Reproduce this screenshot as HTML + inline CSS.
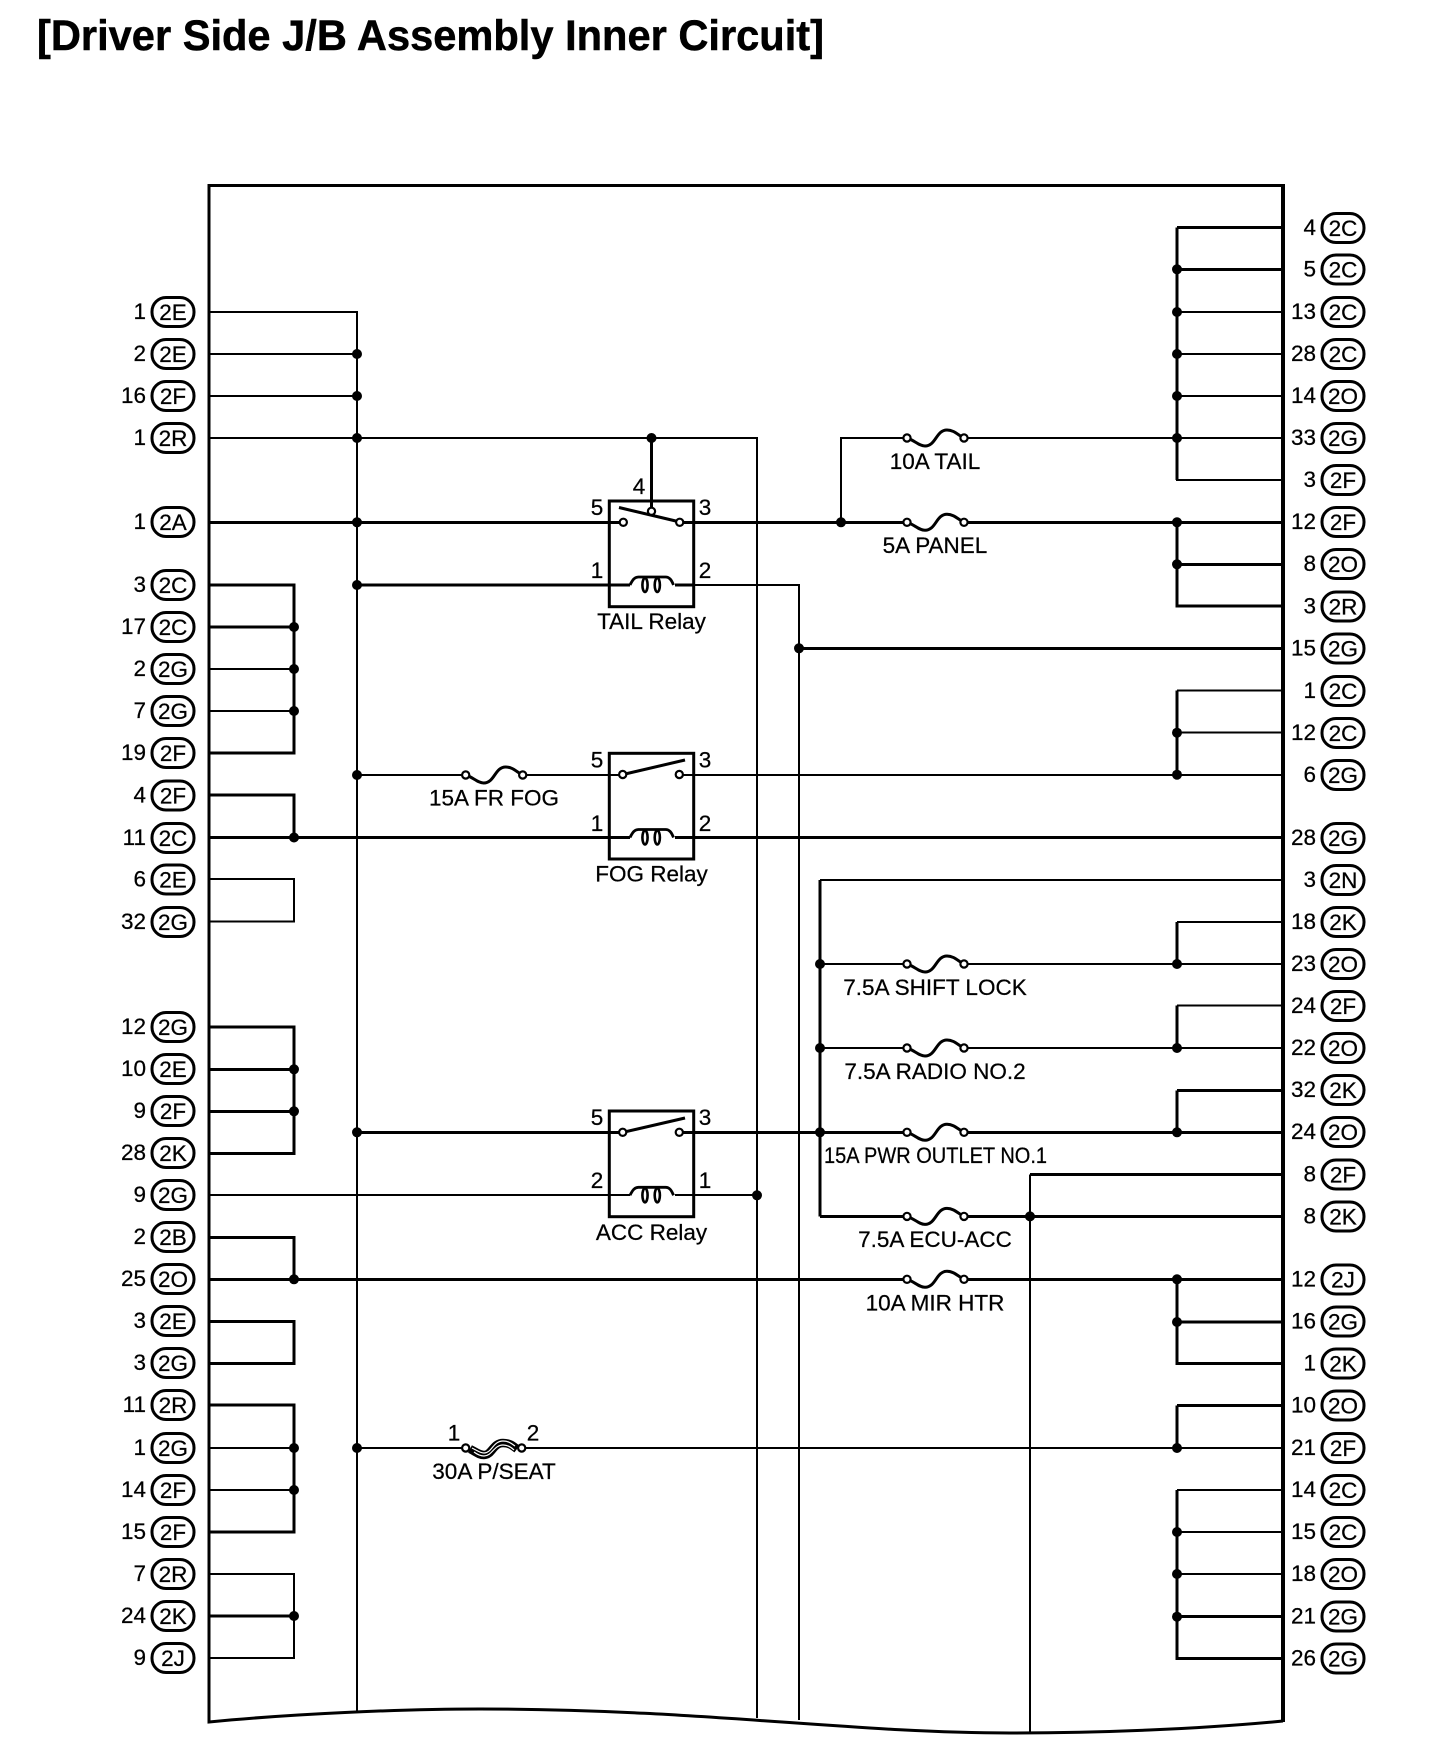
<!DOCTYPE html>
<html><head><meta charset="utf-8"><style>
html,body{margin:0;padding:0;background:#fff;width:1440px;height:1746px;overflow:hidden}
svg{display:block}
text{font-family:"Liberation Sans",sans-serif;font-size:22.5px;fill:#000;stroke:#000;stroke-width:.25}
.n{text-anchor:end;transform:translateX(1px)}.c{text-anchor:middle}
path,line,rect,ellipse,circle{stroke-linejoin:miter}
</style></head><body>
<svg width="1440" height="1746" viewBox="0 0 1440 1746" xmlns="http://www.w3.org/2000/svg">
<defs>
<rect id="o" x="-21" y="-14.5" width="42" height="29" rx="14" ry="14" fill="#fff" stroke="#000" stroke-width="3"/>
<g id="f"><path d="M0,0C7,2 12,8 18,8C29,8 29,-8 40,-8C47,-8 51,-3 57,0" fill="none" stroke="#000" stroke-width="3"/><circle cx="0" cy="0" r="3.6" fill="#fff" stroke="#000" stroke-width="2.2"/><circle cx="57" cy="0" r="3.6" fill="#fff" stroke="#000" stroke-width="2.2"/></g>
<g id="coil"><path d="M-21.5,0C-19,-5 -17,-8 -13,-8H14C18,-8 20,-5 22,0" fill="none" stroke="#000" stroke-width="2.8"/><ellipse cx="-6.5" cy="0" rx="2.6" ry="7" fill="#fff" stroke="#000" stroke-width="2.6"/><ellipse cx="5.8" cy="0" rx="2.6" ry="7" fill="#fff" stroke="#000" stroke-width="2.6"/></g>
<circle id="d" r="5" fill="#000"/>
<circle id="ct" r="3.6" fill="#fff" stroke="#000" stroke-width="2.2"/>
</defs>
<rect width="1440" height="1746" fill="#fff"/>
<text x="37" y="50" textLength="787" lengthAdjust="spacingAndGlyphs" style="font-size:43px;font-weight:bold;stroke-width:.5">[Driver Side J/B Assembly Inner Circuit]</text>

<!-- thin wires -->
<path fill="none" stroke="#000" stroke-width="2" shape-rendering="crispEdges" d="
M209,312H357V1711
M209,354H357M209,396H357
M209,438H757V1718
M209,669H294M209,711H294
M209,879H294V921.5H209
M209,1195H630M675,1195H757
M357,775H465M522,775H623M679,775H1283
M357,1448H465M522,1448H1283
M209,1574H294V1658H209
M1283,312H1177M1283,354H1177M1283,396H1177M1283,480H1177V438
M907,438H841V522M964,438H1283
M1283,690.7H1177M1283,732.7H1177
M1283,880H820M1283,922H1177M820,964H907M964,964H1283
M1283,1005.7H1177M820,1048H907M964,1048H1283
M1283,1490H1177M1283,1532H1177M1283,1574H1177
M1030,1174.6V1733
M209,1448H294M209,1490H294
M693,585H799V1720
"/>
<!-- thick wires -->
<path fill="none" stroke="#000" stroke-width="3" shape-rendering="crispEdges" d="
M209,522.3H623M679,522.3H907M964,522.3H1283
M357,585H630M675,585H693
M209,837.5H630M675,837.5H1283
M651.5,438V511
M209,585H294V753H209M209,627H294
M209,795H294V837
M1177,227.7V480M1283,269.3H1177
M1177,522V606H1283M1283,564.3H1177
M1177,690.7V774.7M1177,922V964M1177,1005.7V1048M1177,1090.7V1132.5
M1283,648.3H799
M1283,1174.6H1030
M1177,1279V1363.5H1283M1283,1322H1177
M1177,1405.7V1448M1177,1405.7H1283
M1177,1490V1658.5H1283M1283,1616.7H1177
M820,880V1216.4
M209,1027H294V1153.3H209M209,1069.3H294M209,1111.3H294
M209,1237.3H294V1279
M209,1279.3H907M964,1279.3H1283
M209,1321.3H294V1363.3H209
M209,1405H294V1532H209
M209,1616H294
M1283,227.7H1177
M357,1132.3H623M679,1132.3H907M964,1132.3H1283
M1177,1090.7H1283
M820,1216.4H907M964,1216.4H1283
"/>

<!-- outer box -->
<path fill="none" stroke="#000" stroke-width="3" d="M1283,185.5H209V1722C290,1714 400,1709 480,1709C700,1709 850,1733 1010,1733C1100,1733 1200,1729 1283,1721"/>
<path fill="none" stroke="#000" stroke-width="4" d="M1283,184V1722"/>

<!-- relays -->
<rect x="609.3" y="501" width="84.4" height="105.7" fill="none" stroke="#000" stroke-width="3"/>
<rect x="609.3" y="753.3" width="84.4" height="105.7" fill="none" stroke="#000" stroke-width="3"/>
<rect x="609.3" y="1111" width="84.4" height="105.7" fill="none" stroke="#000" stroke-width="3"/>
<use href="#coil" x="651.5" y="585"/><use href="#coil" x="651.5" y="837.5"/><use href="#coil" x="651.5" y="1195.3"/>
<line x1="619" y1="507.5" x2="680" y2="522" stroke="#000" stroke-width="3"/>
<line x1="623" y1="774.5" x2="685" y2="760" stroke="#000" stroke-width="3"/>
<line x1="623" y1="1132.3" x2="685" y2="1118" stroke="#000" stroke-width="3"/>
<use href="#ct" x="651.5" y="511.3"/><use href="#ct" x="623.3" y="522.3"/><use href="#ct" x="679.7" y="522.3"/>
<use href="#ct" x="622.7" y="774.5"/><use href="#ct" x="679.3" y="774.5"/>
<use href="#ct" x="622.7" y="1132.3"/><use href="#ct" x="679.3" y="1132.3"/>
<text class="c" x="597" y="515">5</text><text class="c" x="639" y="494">4</text><text class="c" x="705" y="515">3</text><text class="c" x="597" y="578">1</text><text class="c" x="705" y="578">2</text>
<text class="c" x="651.5" y="629">TAIL Relay</text>
<text class="c" x="597" y="767.5">5</text><text class="c" x="705" y="767.5">3</text><text class="c" x="597" y="831">1</text><text class="c" x="705" y="831">2</text>
<text class="c" x="651.5" y="881.5">FOG Relay</text>
<text class="c" x="597" y="1125">5</text><text class="c" x="705" y="1125">3</text><text class="c" x="597" y="1188">2</text><text class="c" x="705" y="1188">1</text>
<text class="c" x="651.5" y="1240">ACC Relay</text>

<!-- fuses -->
<use href="#f" x="907" y="438"/><use href="#f" x="907" y="522.3"/><use href="#f" x="907" y="964"/><use href="#f" x="907" y="1048"/><use href="#f" x="907" y="1132.3"/><use href="#f" x="907" y="1216.4"/><use href="#f" x="907" y="1279.3"/><use href="#f" x="465.7" y="775"/>
<path d="M470,1449C476,1452 479,1455 484,1455C492,1455 493,1443 503,1443C510,1443 513,1446 517,1449" fill="none" stroke="#000" stroke-width="8.5"/>
<path d="M472,1448C478,1451 480,1453 484,1453C492,1453 493,1441 503,1441C509,1441 512,1444 515,1446" fill="none" stroke="#fff" stroke-width="1.2"/>
<path d="M474,1452C478,1455 481,1456 484,1456C492,1456 494,1445 503,1445C508,1445 511,1447 514,1450" fill="none" stroke="#fff" stroke-width="1.2"/>
<use href="#ct" x="465.7" y="1448"/><use href="#ct" x="521.7" y="1448"/>
<text class="c" x="935" y="469">10A TAIL</text>
<text class="c" x="935" y="553">5A PANEL</text>
<text class="c" x="935" y="995">7.5A SHIFT LOCK</text>
<text class="c" x="935" y="1079">7.5A RADIO NO.2</text>
<text class="c" x="935.5" y="1163" textLength="223" lengthAdjust="spacingAndGlyphs">15A PWR OUTLET NO.1</text>
<text class="c" x="935" y="1247">7.5A ECU-ACC</text>
<text class="c" x="935" y="1310.5">10A MIR HTR</text>
<text class="c" x="494" y="805.5">15A FR FOG</text>
<text class="c" x="494" y="1479">30A P/SEAT</text>
<text class="c" x="454" y="1440.5">1</text><text class="c" x="533" y="1440.5">2</text>

<!-- junctions -->
<use href="#d" x="357" y="354"/><use href="#d" x="357" y="396"/><use href="#d" x="357" y="438"/><use href="#d" x="357" y="522.3"/><use href="#d" x="357" y="585"/><use href="#d" x="357" y="775"/><use href="#d" x="357" y="1132.3"/><use href="#d" x="357" y="1448"/>
<use href="#d" x="294" y="627"/><use href="#d" x="294" y="669"/><use href="#d" x="294" y="711"/><use href="#d" x="294" y="837.5"/><use href="#d" x="294" y="1069.3"/><use href="#d" x="294" y="1111.3"/><use href="#d" x="294" y="1279.3"/><use href="#d" x="294" y="1448"/><use href="#d" x="294" y="1490"/><use href="#d" x="294" y="1616"/>
<use href="#d" x="651.5" y="438"/><use href="#d" x="841" y="522.3"/><use href="#d" x="799" y="648.3"/><use href="#d" x="757" y="1195.3"/>
<use href="#d" x="820" y="964"/><use href="#d" x="820" y="1048"/><use href="#d" x="820" y="1132.3"/><use href="#d" x="1030" y="1216.4"/>
<use href="#d" x="1177" y="269.3"/><use href="#d" x="1177" y="312"/><use href="#d" x="1177" y="354"/><use href="#d" x="1177" y="396"/><use href="#d" x="1177" y="438"/><use href="#d" x="1177" y="522.3"/><use href="#d" x="1177" y="564.3"/><use href="#d" x="1177" y="732.7"/><use href="#d" x="1177" y="774.7"/><use href="#d" x="1177" y="964"/><use href="#d" x="1177" y="1048"/><use href="#d" x="1177" y="1132.3"/><use href="#d" x="1177" y="1279.3"/><use href="#d" x="1177" y="1322"/><use href="#d" x="1177" y="1448"/><use href="#d" x="1177" y="1532"/><use href="#d" x="1177" y="1574"/><use href="#d" x="1177" y="1616.7"/>

<!-- left connectors -->
<use href="#o" x="173" y="312"/><text class="n" x="145" y="319">1</text><text class="c" x="173" y="320">2E</text>
<use href="#o" x="173" y="354"/><text class="n" x="145" y="361">2</text><text class="c" x="173" y="362">2E</text>
<use href="#o" x="173" y="396"/><text class="n" x="145" y="403">16</text><text class="c" x="173" y="404">2F</text>
<use href="#o" x="173" y="438"/><text class="n" x="145" y="445">1</text><text class="c" x="173" y="446">2R</text>
<use href="#o" x="173" y="522"/><text class="n" x="145" y="529">1</text><text class="c" x="173" y="530">2A</text>
<use href="#o" x="173" y="585"/><text class="n" x="145" y="592">3</text><text class="c" x="173" y="593">2C</text>
<use href="#o" x="173" y="627"/><text class="n" x="145" y="634">17</text><text class="c" x="173" y="635">2C</text>
<use href="#o" x="173" y="669"/><text class="n" x="145" y="676">2</text><text class="c" x="173" y="677">2G</text>
<use href="#o" x="173" y="711"/><text class="n" x="145" y="718">7</text><text class="c" x="173" y="719">2G</text>
<use href="#o" x="173" y="753"/><text class="n" x="145" y="760">19</text><text class="c" x="173" y="761">2F</text>
<use href="#o" x="173" y="795.5"/><text class="n" x="145" y="802.5">4</text><text class="c" x="173" y="803.5">2F</text>
<use href="#o" x="173" y="838"/><text class="n" x="145" y="845">11</text><text class="c" x="173" y="846">2C</text>
<use href="#o" x="173" y="879.5"/><text class="n" x="145" y="886.5">6</text><text class="c" x="173" y="887.5">2E</text>
<use href="#o" x="173" y="922"/><text class="n" x="145" y="929">32</text><text class="c" x="173" y="930">2G</text>
<use href="#o" x="173" y="1027"/><text class="n" x="145" y="1034">12</text><text class="c" x="173" y="1035">2G</text>
<use href="#o" x="173" y="1069"/><text class="n" x="145" y="1076">10</text><text class="c" x="173" y="1077">2E</text>
<use href="#o" x="173" y="1111"/><text class="n" x="145" y="1118">9</text><text class="c" x="173" y="1119">2F</text>
<use href="#o" x="173" y="1153"/><text class="n" x="145" y="1160">28</text><text class="c" x="173" y="1161">2K</text>
<use href="#o" x="173" y="1195"/><text class="n" x="145" y="1202">9</text><text class="c" x="173" y="1203">2G</text>
<use href="#o" x="173" y="1237"/><text class="n" x="145" y="1244">2</text><text class="c" x="173" y="1245">2B</text>
<use href="#o" x="173" y="1279"/><text class="n" x="145" y="1286">25</text><text class="c" x="173" y="1287">2O</text>
<use href="#o" x="173" y="1321"/><text class="n" x="145" y="1328">3</text><text class="c" x="173" y="1329">2E</text>
<use href="#o" x="173" y="1363"/><text class="n" x="145" y="1370">3</text><text class="c" x="173" y="1371">2G</text>
<use href="#o" x="173" y="1405"/><text class="n" x="145" y="1412">11</text><text class="c" x="173" y="1413">2R</text>
<use href="#o" x="173" y="1448"/><text class="n" x="145" y="1455">1</text><text class="c" x="173" y="1456">2G</text>
<use href="#o" x="173" y="1490"/><text class="n" x="145" y="1497">14</text><text class="c" x="173" y="1498">2F</text>
<use href="#o" x="173" y="1532"/><text class="n" x="145" y="1539">15</text><text class="c" x="173" y="1540">2F</text>
<use href="#o" x="173" y="1574"/><text class="n" x="145" y="1581">7</text><text class="c" x="173" y="1582">2R</text>
<use href="#o" x="173" y="1616"/><text class="n" x="145" y="1623">24</text><text class="c" x="173" y="1624">2K</text>
<use href="#o" x="173" y="1658"/><text class="n" x="145" y="1665">9</text><text class="c" x="173" y="1666">2J</text>

<!-- right connectors -->
<use href="#o" x="1343" y="228"/><text class="n" x="1315" y="235">4</text><text class="c" x="1343" y="236">2C</text>
<use href="#o" x="1343" y="269.5"/><text class="n" x="1315" y="276.5">5</text><text class="c" x="1343" y="277.5">2C</text>
<use href="#o" x="1343" y="312"/><text class="n" x="1315" y="319">13</text><text class="c" x="1343" y="320">2C</text>
<use href="#o" x="1343" y="354"/><text class="n" x="1315" y="361">28</text><text class="c" x="1343" y="362">2C</text>
<use href="#o" x="1343" y="396"/><text class="n" x="1315" y="403">14</text><text class="c" x="1343" y="404">2O</text>
<use href="#o" x="1343" y="438"/><text class="n" x="1315" y="445">33</text><text class="c" x="1343" y="446">2G</text>
<use href="#o" x="1343" y="480"/><text class="n" x="1315" y="487">3</text><text class="c" x="1343" y="488">2F</text>
<use href="#o" x="1343" y="522"/><text class="n" x="1315" y="529">12</text><text class="c" x="1343" y="530">2F</text>
<use href="#o" x="1343" y="564"/><text class="n" x="1315" y="571">8</text><text class="c" x="1343" y="572">2O</text>
<use href="#o" x="1343" y="606.5"/><text class="n" x="1315" y="613.5">3</text><text class="c" x="1343" y="614.5">2R</text>
<use href="#o" x="1343" y="648.5"/><text class="n" x="1315" y="655.5">15</text><text class="c" x="1343" y="656.5">2G</text>
<use href="#o" x="1343" y="691"/><text class="n" x="1315" y="698">1</text><text class="c" x="1343" y="699">2C</text>
<use href="#o" x="1343" y="733"/><text class="n" x="1315" y="740">12</text><text class="c" x="1343" y="741">2C</text>
<use href="#o" x="1343" y="775"/><text class="n" x="1315" y="782">6</text><text class="c" x="1343" y="783">2G</text>
<use href="#o" x="1343" y="838"/><text class="n" x="1315" y="845">28</text><text class="c" x="1343" y="846">2G</text>
<use href="#o" x="1343" y="880"/><text class="n" x="1315" y="887">3</text><text class="c" x="1343" y="888">2N</text>
<use href="#o" x="1343" y="922"/><text class="n" x="1315" y="929">18</text><text class="c" x="1343" y="930">2K</text>
<use href="#o" x="1343" y="964"/><text class="n" x="1315" y="971">23</text><text class="c" x="1343" y="972">2O</text>
<use href="#o" x="1343" y="1006"/><text class="n" x="1315" y="1013">24</text><text class="c" x="1343" y="1014">2F</text>
<use href="#o" x="1343" y="1048"/><text class="n" x="1315" y="1055">22</text><text class="c" x="1343" y="1056">2O</text>
<use href="#o" x="1343" y="1090"/><text class="n" x="1315" y="1097">32</text><text class="c" x="1343" y="1098">2K</text>
<use href="#o" x="1343" y="1132"/><text class="n" x="1315" y="1139">24</text><text class="c" x="1343" y="1140">2O</text>
<use href="#o" x="1343" y="1174.5"/><text class="n" x="1315" y="1181.5">8</text><text class="c" x="1343" y="1182.5">2F</text>
<use href="#o" x="1343" y="1216.5"/><text class="n" x="1315" y="1223.5">8</text><text class="c" x="1343" y="1224.5">2K</text>
<use href="#o" x="1343" y="1279.5"/><text class="n" x="1315" y="1286.5">12</text><text class="c" x="1343" y="1287.5">2J</text>
<use href="#o" x="1343" y="1321.5"/><text class="n" x="1315" y="1328.5">16</text><text class="c" x="1343" y="1329.5">2G</text>
<use href="#o" x="1343" y="1363.5"/><text class="n" x="1315" y="1370.5">1</text><text class="c" x="1343" y="1371.5">2K</text>
<use href="#o" x="1343" y="1405.5"/><text class="n" x="1315" y="1412.5">10</text><text class="c" x="1343" y="1413.5">2O</text>
<use href="#o" x="1343" y="1448"/><text class="n" x="1315" y="1455">21</text><text class="c" x="1343" y="1456">2F</text>
<use href="#o" x="1343" y="1490"/><text class="n" x="1315" y="1497">14</text><text class="c" x="1343" y="1498">2C</text>
<use href="#o" x="1343" y="1532"/><text class="n" x="1315" y="1539">15</text><text class="c" x="1343" y="1540">2C</text>
<use href="#o" x="1343" y="1574"/><text class="n" x="1315" y="1581">18</text><text class="c" x="1343" y="1582">2O</text>
<use href="#o" x="1343" y="1616.5"/><text class="n" x="1315" y="1623.5">21</text><text class="c" x="1343" y="1624.5">2G</text>
<use href="#o" x="1343" y="1658.5"/><text class="n" x="1315" y="1665.5">26</text><text class="c" x="1343" y="1666.5">2G</text>
</svg>
</body></html>
